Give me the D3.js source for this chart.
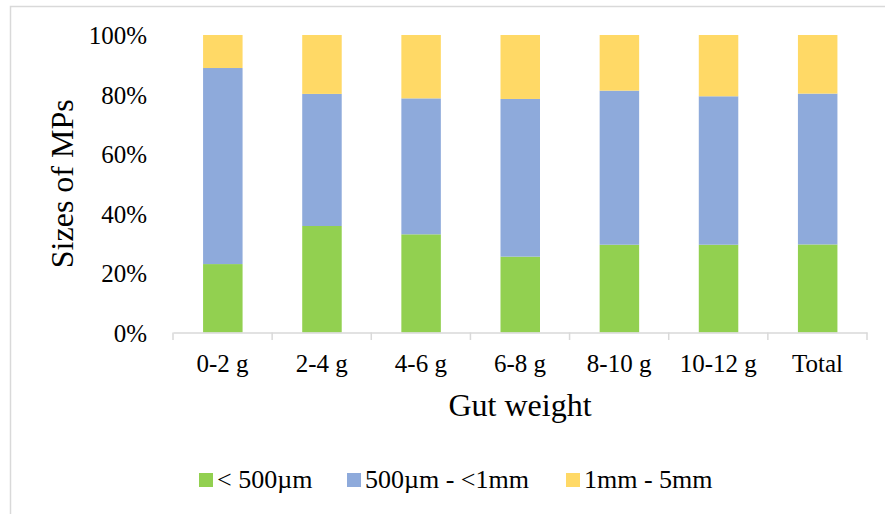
<!DOCTYPE html>
<html><head><meta charset="utf-8">
<script src="https://cdn.jsdelivr.net/npm/d3@7"></script>
<style>body{margin:0;background:#fff}svg{display:block}text{font-family:"Liberation Serif","Times New Roman",serif;fill:#000}</style>
</head><body>
<svg id="c" width="885" height="514"></svg>
<script>
const categories = ["0-2 g","2-4 g","4-6 g","6-8 g","8-10 g","10-12 g","Total"];
const seriesNames = ["< 500µm","500µm - <1mm","1mm - 5mm"];
const small  = [23.0, 35.8, 33.0, 25.5, 29.5, 29.5, 29.6];
const medium = [65.9, 44.4, 45.7, 53.0, 51.8, 49.9, 50.7];
const large  = [11.1, 19.8, 21.3, 21.5, 18.7, 20.6, 19.7];
const yTicks = [0, 20, 40, 60, 80, 100];
const colors = ["#92d050","#8eaadb","#ffd966"];

const svg = d3.select("#c");
svg.append("rect").attr("x",10.5).attr("y",6.5).attr("width",1000).attr("height",800)
  .attr("fill","none").attr("stroke","#d9d9d9").attr("stroke-width",1.5);

const L=173, R=867, T=35, B=332.5;
const x = d3.scaleBand().domain(categories).range([L,R]).paddingInner(0.6).paddingOuter(0.3);
const band = d3.scaleBand().domain(categories).range([L,R]);
const y = d3.scaleLinear().domain([0,100]).range([B,T]);

const rows = categories.map((c,i)=>({cat:c, s0:small[i], s1:medium[i], s2:large[i]}));
const stack = d3.stack().keys(["s0","s1","s2"])(rows);

stack.forEach((layer,k)=>{
  svg.append("g").selectAll("rect").data(layer).join("rect")
    .attr("x",d=>band(d.data.cat)+band.bandwidth()/2-19.5)
    .attr("width",39.5)
    .attr("y",d=>y(d[1]))
    .attr("height",d=>y(d[0])-y(d[1]))
    .attr("fill",colors[k]);
});

// x axis
const xa = svg.append("g").attr("transform",`translate(0,${B})`)
  .call(d3.axisBottom(band).tickSize(0).tickPadding(0));
xa.select(".domain").attr("stroke","#d9d9d9").attr("stroke-width",1.5);
xa.selectAll(".tick text").attr("y",39.5).attr("dy",null).attr("font-size","25px");
const bounds = categories.map(c=>band(c)).concat([R]);
svg.append("g").selectAll("line").data(bounds).join("line")
  .attr("x1",d=>d).attr("x2",d=>d).attr("y1",B).attr("y2",B+7.5)
  .attr("stroke","#d9d9d9").attr("stroke-width",1.5);

// y axis
const ya = svg.append("g").attr("transform",`translate(${L},0)`)
  .call(d3.axisLeft(y).tickValues(yTicks).tickFormat(d=>d+"%").tickSize(0).tickPadding(26));
ya.select(".domain").remove();
ya.selectAll(".tick text").attr("font-size","25px").attr("dy","0.35em");

// titles
svg.append("text").attr("x",(L+R)/2).attr("y",416).attr("text-anchor","middle")
  .attr("font-size","32px").text("Gut weight");
svg.append("text").attr("transform",`translate(73,${(T+B)/2}) rotate(-90)`)
  .attr("text-anchor","middle").attr("font-size","32px").text("Sizes of MPs");

// legend
const legX = [199, 347, 566];
const lg = svg.append("g").selectAll("g").data(seriesNames).join("g")
  .attr("transform",(d,i)=>`translate(${legX[i]},473)`);
lg.append("rect").attr("width",14).attr("height",14).attr("fill",(d,i)=>colors[i]);
lg.append("text").attr("x",18).attr("y",15).attr("font-size","26px").text(d=>d);
</script>
</body></html>
